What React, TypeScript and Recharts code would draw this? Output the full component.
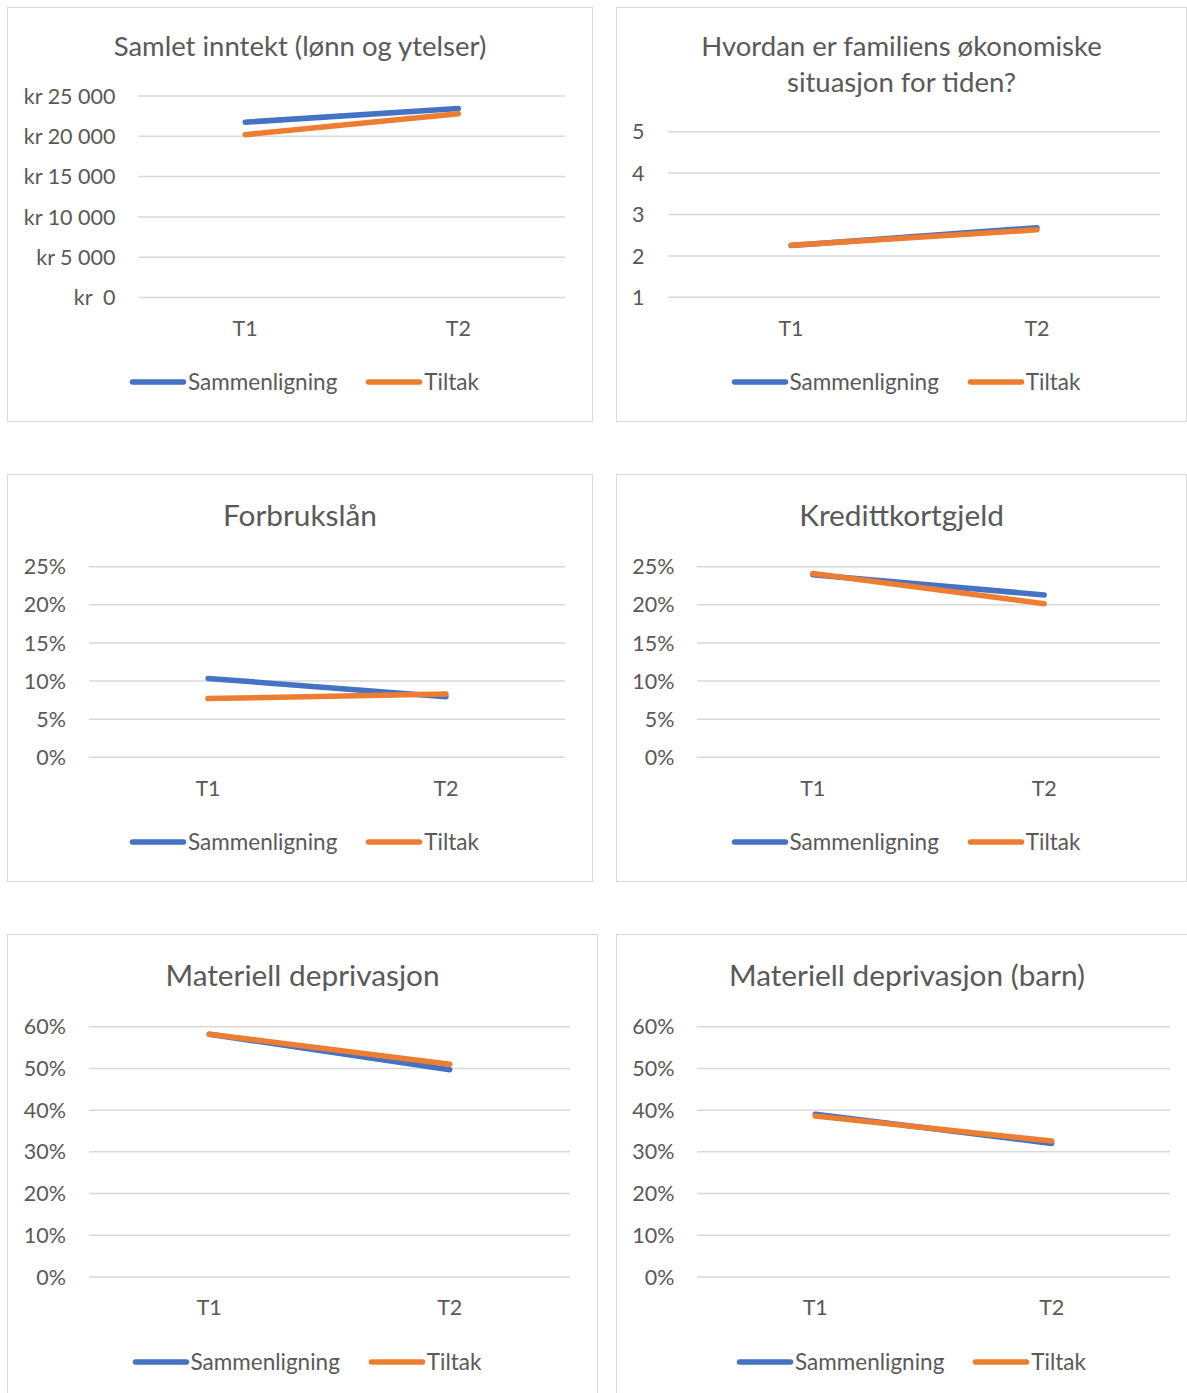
import React from 'react';
import { LineChart, Line, XAxis, YAxis, CartesianGrid, Legend } from 'recharts';

// Categories shared by every panel
const categories = ['T1', 'T2'];

// Series values per panel (Sammenligning / Tiltak)
const inntektSammenligning = [21750, 23450];
const inntektTiltak = [20200, 22800];
const situasjonSammenligning = [2.25, 2.68];
const situasjonTiltak = [2.26, 2.63];
const forbrukslanSammenligning = [0.1035, 0.0795];
const forbrukslanTiltak = [0.077, 0.083];
const kredittkortSammenligning = [0.2395, 0.213];
const kredittkortTiltak = [0.241, 0.2015];
const deprivasjonSammenligning = [0.582, 0.497];
const deprivasjonTiltak = [0.582, 0.51];
const deprivasjonBarnSammenligning = [0.39, 0.32];
const deprivasjonBarnTiltak = [0.386, 0.326];

// Axis tick values
const inntektTicks = [0, 5000, 10000, 15000, 20000, 25000];
const situasjonTicks = [1, 2, 3, 4, 5];
const lanTicks = [0, 0.05, 0.1, 0.15, 0.2, 0.25];
const deprivasjonTicks = [0, 0.1, 0.2, 0.3, 0.4, 0.5, 0.6];

const SERIES_NAMES = ['Sammenligning', 'Tiltak'];
const BLUE = '#4472C4';
const ORANGE = '#ED7D31';
const TEXT = '#595959';
const GRID = '#D9D9D9';
const FONT = 'Lato, "Open Sans", sans-serif';

const formatKr = (v: number) =>
  v === 0 ? 'kr\u00a0\u00a00' : `kr ${Math.floor(v / 1000)} 000`;
const formatPct = (v: number) => `${Math.round(v * 100)}%`;
const formatPlain = (v: number) => `${v}`;

const buildRows = (a: number[], b: number[]) =>
  categories.map((c, i) => ({ name: c, Sammenligning: a[i], Tiltak: b[i] }));

type Panel = {
  title: string[];
  titleSize: number;
  rows: { name: string; Sammenligning: number; Tiltak: number }[];
  ticks: number[];
  domain: [number, number];
  fmt: (v: number) => string;
  box: { L: number; T: number; W: number; H: number };
  plot: { L: number; R: number; T: number; B: number };
  tickRight: number;
  titleTop: number;
  legendY: number;
};

const panels: Panel[] = [
  {
    title: ['Samlet inntekt (lønn og ytelser)'],
    titleSize: 27.5,
    rows: buildRows(inntektSammenligning, inntektTiltak),
    ticks: inntektTicks,
    domain: [0, 25000],
    fmt: formatKr,
    box: { L: 7, T: 7, W: 586, H: 415 },
    plot: { L: 138.5, R: 565, T: 96, B: 297.5 },
    tickRight: 115.5,
    titleTop: 28,
    legendY: 381.5,
  },
  {
    title: ['Hvordan er familiens økonomiske', 'situasjon for tiden?'],
    titleSize: 27.5,
    rows: buildRows(situasjonSammenligning, situasjonTiltak),
    ticks: situasjonTicks,
    domain: [1, 5],
    fmt: formatPlain,
    box: { L: 616, T: 7, W: 571, H: 415 },
    plot: { L: 668, R: 1160, T: 131.7, B: 297.3 },
    tickRight: 644.5,
    titleTop: 28,
    legendY: 381.5,
  },
  {
    title: ['Forbrukslån'],
    titleSize: 29.8,
    rows: buildRows(forbrukslanSammenligning, forbrukslanTiltak),
    ticks: lanTicks,
    domain: [0, 0.25],
    fmt: formatPct,
    box: { L: 7, T: 474, W: 586, H: 408 },
    plot: { L: 89, R: 565, T: 566.7, B: 757.3 },
    tickRight: 66,
    titleTop: 497,
    legendY: 841.5,
  },
  {
    title: ['Kredittkortgjeld'],
    titleSize: 29.8,
    rows: buildRows(kredittkortSammenligning, kredittkortTiltak),
    ticks: lanTicks,
    domain: [0, 0.25],
    fmt: formatPct,
    box: { L: 616, T: 474, W: 571, H: 408 },
    plot: { L: 697, R: 1160, T: 566.7, B: 757.3 },
    tickRight: 674.5,
    titleTop: 497,
    legendY: 841.5,
  },
  {
    title: ['Materiell deprivasjon'],
    titleSize: 29.8,
    rows: buildRows(deprivasjonSammenligning, deprivasjonTiltak),
    ticks: deprivasjonTicks,
    domain: [0, 0.6],
    fmt: formatPct,
    box: { L: 7, T: 934, W: 591, H: 475 },
    plot: { L: 89, R: 570, T: 1026.7, B: 1277 },
    tickRight: 66,
    titleTop: 957,
    legendY: 1362,
  },
  {
    title: ['Materiell deprivasjon (barn)'],
    titleSize: 29.8,
    rows: buildRows(deprivasjonBarnSammenligning, deprivasjonBarnTiltak),
    ticks: deprivasjonTicks,
    domain: [0, 0.6],
    fmt: formatPct,
    box: { L: 616, T: 934, W: 582, H: 475 },
    plot: { L: 697, R: 1170, T: 1026.7, B: 1277 },
    tickRight: 674.5,
    titleTop: 957,
    legendY: 1362,
  },
];

const LegendContent = (props: any) => {
  const items = props.payload || [];
  return (
    <div
      style={{
        display: 'flex',
        justifyContent: 'center',
        alignItems: 'center',
        height: 30,
        paddingLeft: 8,
        fontFamily: FONT,
        fontSize: 22.5,
        color: TEXT,
      }}
    >
      {items.map((entry: any, i: number) => (
        <div
          key={entry.value}
          style={{ display: 'flex', alignItems: 'center', marginLeft: i === 0 ? 0 : 28 }}
        >
          <svg width={58} height={8} style={{ display: 'block' }}>
            <line
              x1={3.5}
              y1={4}
              x2={54.5}
              y2={4}
              stroke={entry.color}
              strokeWidth={5.5}
              strokeLinecap="round"
            />
          </svg>
          <span style={{ marginLeft: 1, lineHeight: '30px' }}>{entry.value}</span>
        </div>
      ))}
    </div>
  );
};

const X_AXIS_HEIGHT = 40;

const ChartPanel = ({ p }: { p: Panel }) => {
  const originX = p.box.L + 1;
  const originY = p.box.T + 1;
  const chartW = p.box.W - 2;
  const chartH = p.box.H - 2;
  const yAxisWidth = p.plot.L - originX;
  const quarter = (p.plot.R - p.plot.L) / 4;
  const margin = {
    top: p.plot.T - originY,
    left: 0,
    right: chartW - (p.plot.R - originX),
    bottom: chartH - (p.plot.B - originY) - X_AXIS_HEIGHT,
  };
  const tickStyle = { fill: TEXT, fontSize: 21.5, fontFamily: FONT };
  return (
    <div
      style={{
        position: 'absolute',
        left: p.box.L,
        top: p.box.T,
        width: p.box.W,
        height: p.box.H,
        boxSizing: 'border-box',
        border: `1px solid ${GRID}`,
        background: '#fff',
      }}
    >
      <div
        style={{
          position: 'absolute',
          left: 0,
          top: p.titleTop - originY,
          width: '100%',
          textAlign: 'center',
          fontFamily: FONT,
          fontSize: p.titleSize,
          lineHeight: '36px',
          color: TEXT,
          zIndex: 2,
        }}
      >
        {p.title.map((t) => (
          <div key={t}>{t}</div>
        ))}
      </div>
      <LineChart width={chartW} height={chartH} data={p.rows} margin={margin}>
        <CartesianGrid vertical={false} stroke={GRID} strokeWidth={1.5} />
        <XAxis
          dataKey="name"
          height={X_AXIS_HEIGHT}
          padding={{ left: quarter, right: quarter }}
          axisLine={false}
          tickLine={false}
          tickSize={0}
          tickMargin={23}
          tick={tickStyle}
          interval={0}
        />
        <YAxis
          width={yAxisWidth}
          domain={p.domain}
          ticks={p.ticks}
          tickFormatter={p.fmt}
          axisLine={false}
          tickLine={false}
          tickSize={0}
          tickMargin={p.plot.L - p.tickRight}
          tick={tickStyle}
          interval={0}
          allowDataOverflow
        />
        <Legend
          verticalAlign="middle"
          align="center"
          layout="horizontal"
          content={LegendContent}
          wrapperStyle={{ left: 0, top: p.legendY - originY - 15, width: chartW, height: 30 }}
        />
        <Line
          type="linear"
          dataKey={SERIES_NAMES[0]}
          name={SERIES_NAMES[0]}
          stroke={BLUE}
          strokeWidth={5.5}
          strokeLinecap="round"
          dot={false}
          activeDot={false}
          isAnimationActive={false}
        />
        <Line
          type="linear"
          dataKey={SERIES_NAMES[1]}
          name={SERIES_NAMES[1]}
          stroke={ORANGE}
          strokeWidth={5.5}
          strokeLinecap="round"
          dot={false}
          activeDot={false}
          isAnimationActive={false}
        />
      </LineChart>
    </div>
  );
};

export default function App() {
  return (
    <div
      style={{
        position: 'absolute',
        left: 0,
        top: 0,
        width: 1187,
        height: 1393,
        overflow: 'hidden',
        background: '#fff',
      }}
    >
      {panels.map((p) => (
        <ChartPanel key={p.title.join(' ')} p={p} />
      ))}
    </div>
  );
}
